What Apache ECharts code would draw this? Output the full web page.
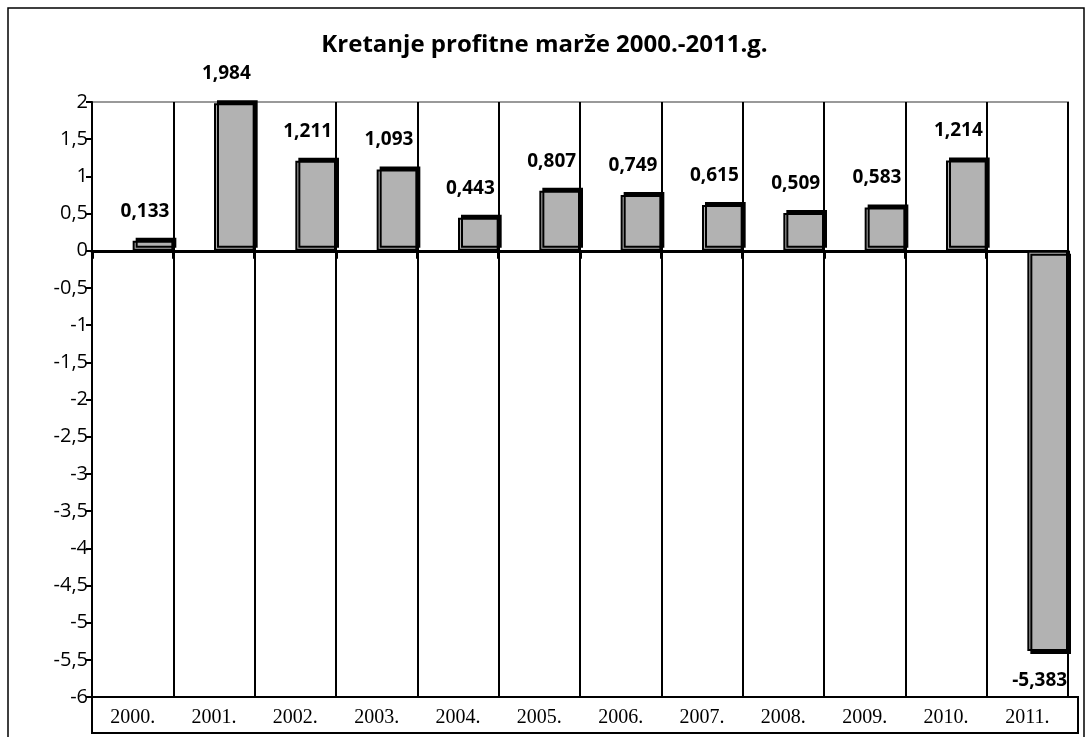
<!DOCTYPE html>
<html>
<head>
<meta charset="utf-8">
<script src="https://cdn.jsdelivr.net/npm/echarts@6/dist/echarts.min.js"></script>
<style>
  html, body { margin: 0; padding: 0; background: #fff; }
  #chart { width: 1089px; height: 737px; }
</style>
</head>
<body>
<div id="chart"></div>
<script>
// godine i profitna marža
const years = ['2000.', '2001.', '2002.', '2003.', '2004.', '2005.', '2006.', '2007.', '2008.', '2009.', '2010.', '2011.']
const margin = [0.133, 1.984, 1.211, 1.093, 0.443, 0.807, 0.749, 0.615, 0.509, 0.583, 1.214, -5.383]
const yTicks = [-6, 2, 0.5] // min, max, interval

const comma = (v, digits) => (digits ? v.toFixed(digits) : String(v)).replace('.', ',')

const chart = echarts.init(document.getElementById('chart'))

const barData = margin.map(v => ({
  value: v,
  itemStyle: { shadowOffsetY: v < 0 ? 3 : -3 },
  label: { position: v < 0 ? 'bottom' : 'top' }
}))

const option = {
  animation: false,
  title: {
    text: 'Kretanje profitne marže 2000.-2011.g.',
    left: 'center',
    top: 28,
    textStyle: { fontFamily: 'Open Sans', fontWeight: 'bold', fontSize: 24, color: '#000' }
  },
  grid: {
    left: 92, right: 21, top: 102, bottom: 40,
    show: true, borderColor: '#999', borderWidth: 2, backgroundColor: '#fff'
  },
  xAxis: [
    {
      type: 'category',
      data: years,
      axisLine: { onZero: true, lineStyle: { color: '#000', width: 3 } },
      axisTick: { show: true, length: 8, lineStyle: { color: '#000', width: 3 } },
      axisLabel: { show: false },
      splitLine: { show: true, lineStyle: { color: '#000', width: 2 } }
    },
    {
      type: 'category',
      data: years,
      position: 'bottom',
      axisLine: { onZero: false, lineStyle: { color: '#000', width: 2 } },
      axisTick: { show: false },
      axisLabel: { fontFamily: 'Liberation Serif', fontSize: 20, color: '#000', margin: 11 }
    }
  ],
  yAxis: {
    type: 'value',
    min: yTicks[0],
    max: yTicks[1],
    interval: yTicks[2],
    axisLine: { show: true, lineStyle: { color: '#000', width: 2 } },
    axisTick: { show: true, length: 6, lineStyle: { color: '#000', width: 2 } },
    axisLabel: {
      fontFamily: 'Open Sans', fontSize: 20, color: '#000', margin: 4,
      formatter: v => comma(v)
    },
    splitLine: { show: false }
  },
  series: [
    {
      // prazna serija - gura stupce u desnu polovicu kategorije
      type: 'bar',
      xAxisIndex: 0,
      data: margin.map(() => '-'),
      barGap: '0%',
      barCategoryGap: '0%'
    },
    {
      type: 'bar',
      xAxisIndex: 0,
      data: barData,
      barGap: '0%',
      barCategoryGap: '0%',
      itemStyle: {
        color: '#b2b2b2',
        borderColor: '#000',
        borderWidth: 2,
        shadowColor: '#000',
        shadowBlur: 0,
        shadowOffsetX: 3
      },
      label: {
        show: true,
        distance: 20,
        offset: [-8, 0],
        fontFamily: 'Open Sans',
        fontWeight: 'bold',
        fontSize: 19,
        color: '#000',
        formatter: p => comma(p.value, 3)
      }
    }
  ],
  graphic: [
    {
      type: 'rect',
      shape: { x: 8, y: 8, width: 1076, height: 760 },
      style: { fill: 'none', stroke: '#000', lineWidth: 1.5 },
      silent: true
    },
    {
      type: 'rect',
      shape: { x: 92, y: 697, width: 986, height: 36 },
      style: { fill: 'none', stroke: '#000', lineWidth: 2 },
      silent: true,
      z: 10
    }
  ]
}

chart.setOption(option)
</script>
</body>
</html>
